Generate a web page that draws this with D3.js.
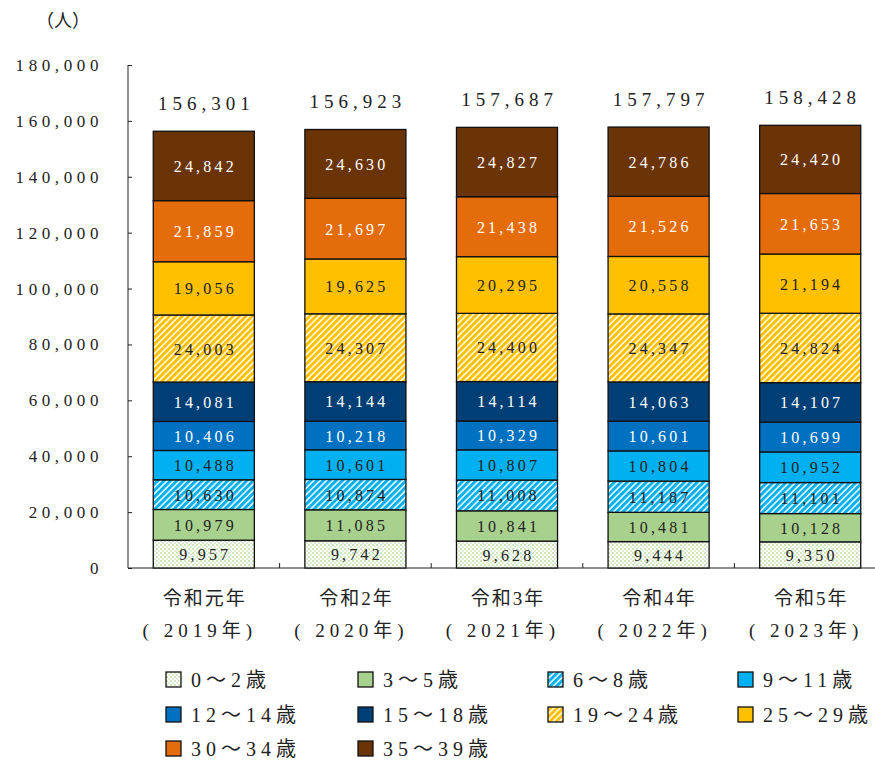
<!DOCTYPE html>
<html>
<head>
<meta charset="utf-8">
<script src="https://cdn.jsdelivr.net/npm/d3@7"></script>
<style>
  body { margin: 0; background: #fff; }
  svg text { font-family: "Liberation Serif", "Noto Sans CJK JP", serif; fill: #222; }
</style>
</head>
<body>
<script>
const years = ["令和元年", "令和2年", "令和3年", "令和4年", "令和5年"];
const yearsAD = ["( 2019年)", "( 2020年)", "( 2021年)", "( 2022年)", "( 2023年)"];
const groups = ["0～2歳", "3～5歳", "6～8歳", "9～11歳", "12～14歳", "15～18歳", "19～24歳", "25～29歳", "30～34歳", "35～39歳"];
const age0_2   = [9957, 9742, 9628, 9444, 9350];
const age3_5   = [10979, 11085, 10841, 10481, 10128];
const age6_8   = [10630, 10874, 11008, 11187, 11101];
const age9_11  = [10488, 10601, 10807, 10804, 10952];
const age12_14 = [10406, 10218, 10329, 10601, 10699];
const age15_18 = [14081, 14144, 14114, 14063, 14107];
const age19_24 = [24003, 24307, 24400, 24347, 24824];
const age25_29 = [19056, 19625, 20295, 20558, 21194];
const age30_34 = [21859, 21697, 21438, 21526, 21653];
const age35_39 = [24842, 24630, 24827, 24786, 24420];
const totals   = [156301, 156923, 157687, 157797, 158428];
const yTicks = [0, 20000, 40000, 60000, 80000, 100000, 120000, 140000, 160000, 180000];

const series = [age0_2, age3_5, age6_8, age9_11, age12_14, age15_18, age19_24, age25_29, age30_34, age35_39];
const fills = ["url(#dots)", "#a9d18e", "url(#stripeBlue)", "#00b0f0", "#0070c0", "#003f75", "url(#stripeYellow)", "#ffc000", "#e46c0a", "#6b3407"];
const textCol = ["#222", "#222", "#222", "#222", "#fff", "#fff", "#222", "#222", "#fff", "#fff"];

const W = 875, H = 760;
const svg = d3.select("body").append("svg").attr("width", W).attr("height", H);

// patterns
const defs = svg.append("defs");
const dots = defs.append("pattern").attr("id", "dots").attr("patternUnits", "userSpaceOnUse")
  .attr("width", 4).attr("height", 4);
dots.append("rect").attr("width", 4).attr("height", 4).attr("fill", "#fff");
dots.append("circle").attr("cx", 1).attr("cy", 1).attr("r", 0.9).attr("fill", "#b5d99c");
dots.append("circle").attr("cx", 3).attr("cy", 3).attr("r", 0.9).attr("fill", "#cfe6bf");

function stripes(id, col) {
  const p = defs.append("pattern").attr("id", id).attr("patternUnits", "userSpaceOnUse")
    .attr("width", 4.5).attr("height", 4.5).attr("patternTransform", "rotate(45)");
  p.append("rect").attr("width", 4.5).attr("height", 4.5).attr("fill", "#fff");
  p.append("rect").attr("width", 3).attr("height", 4.5).attr("fill", col);
}
stripes("stripeBlue", "#00b0f0");
stripes("stripeYellow", "#ffc000");

const x = d3.scaleBand().domain(d3.range(5)).range([128, 886]).paddingInner(1 / 3).paddingOuter(1 / 6);
const y = d3.scaleLinear().domain([0, 180000]).range([568, 65]);

// y axis
const yAxis = svg.append("g").attr("transform", "translate(128,0)")
  .call(d3.axisRight(y).tickValues(yTicks).tickSize(4).tickFormat(""));
yAxis.select(".domain").attr("stroke", "#222").attr("d", "M0,65V568");
yAxis.selectAll(".tick line").attr("stroke", "#222");
svg.selectAll(".ylab").data(yTicks).enter().append("text")
  .attr("x", 103).attr("y", d => y(d) + 6)
  .attr("text-anchor", "end")
  .style("font-size", "17px").style("letter-spacing", "4.6px")
  .text(d => d3.format(",")(d));

// baseline and category ticks
svg.append("line").attr("x1", 128).attr("x2", W).attr("y1", 568).attr("y2", 568).attr("stroke", "#222");
svg.selectAll(".xt").data(d3.range(1, 5)).enter().append("line")
  .attr("x1", i => 128 + i * x.step()).attr("x2", i => 128 + i * x.step())
  .attr("y1", 568).attr("y2", 563).attr("stroke", "#222");

// stacked bars
const stackData = years.map((d, i) => {
  const row = { i };
  groups.forEach((g, k) => row[g] = series[k][i]);
  return row;
});
const stacked = d3.stack().keys(groups)(stackData);

const layers = svg.selectAll(".layer").data(stacked).enter().append("g");
layers.selectAll("rect").data((d, k) => d.map(v => ({ v, k }))).enter().append("rect")
  .attr("x", d => x(d.v.data.i))
  .attr("width", x.bandwidth())
  .attr("y", d => y(d.v[1]))
  .attr("height", d => y(d.v[0]) - y(d.v[1]))
  .attr("fill", d => fills[d.k])
  .attr("stroke", "#111").attr("stroke-width", 1.3);

layers.selectAll("text").data((d, k) => d.map(v => ({ v, k }))).enter().append("text")
  .attr("x", d => x(d.v.data.i) + x.bandwidth() / 2 + 1.5)
  .attr("y", d => (y(d.v[0]) + y(d.v[1])) / 2 + 6)
  .attr("text-anchor", "middle")
  .style("font-size", "16px").style("letter-spacing", "3.2px")
  .style("fill", d => textCol[d.k])
  .text(d => d3.format(",")(d.v[1] - d.v[0]));

// totals
svg.selectAll(".tot").data(totals).enter().append("text")
  .attr("x", (d, i) => x(i) + x.bandwidth() / 2 + 2.5)
  .attr("y", d => y(d) - 21)
  .attr("text-anchor", "middle")
  .style("font-size", "19px").style("letter-spacing", "5px")
  .text(d => d3.format(",")(d));

// category labels
svg.selectAll(".cat").data(years).enter().append("text")
  .attr("x", (d, i) => x(i) + x.bandwidth() / 2 + 1)
  .attr("y", 605)
  .attr("text-anchor", "middle")
  .style("font-size", "19px").style("letter-spacing", "2px")
  .text(d => d);
svg.selectAll(".cat2").data(yearsAD).enter().append("text")
  .attr("x", (d, i) => x(i) + x.bandwidth() / 2 - 4)
  .attr("y", 637)
  .attr("text-anchor", "middle")
  .style("font-size", "19px").style("letter-spacing", "5px")
  .text(d => d);

// unit
svg.append("text").attr("x", 63).attr("y", 27).attr("text-anchor", "middle")
  .style("font-size", "18px").text("（人）");

// legend
const legX = [166, 358, 548, 738];
const legY = [680, 715, 749];
const leg = svg.selectAll(".leg").data(groups).enter().append("g")
  .attr("transform", (d, i) => `translate(${legX[i % 4]},${legY[Math.floor(i / 4)]})`);
leg.append("rect").attr("x", 0).attr("y", -8).attr("width", 15).attr("height", 15)
  .attr("fill", (d, i) => fills[i]).attr("stroke", "#111").attr("stroke-width", 1.3);
leg.append("text").attr("x", 25).attr("y", 7)
  .style("font-size", "20px").style("letter-spacing", "5px")
  .text(d => d);
</script>
</body>
</html>
